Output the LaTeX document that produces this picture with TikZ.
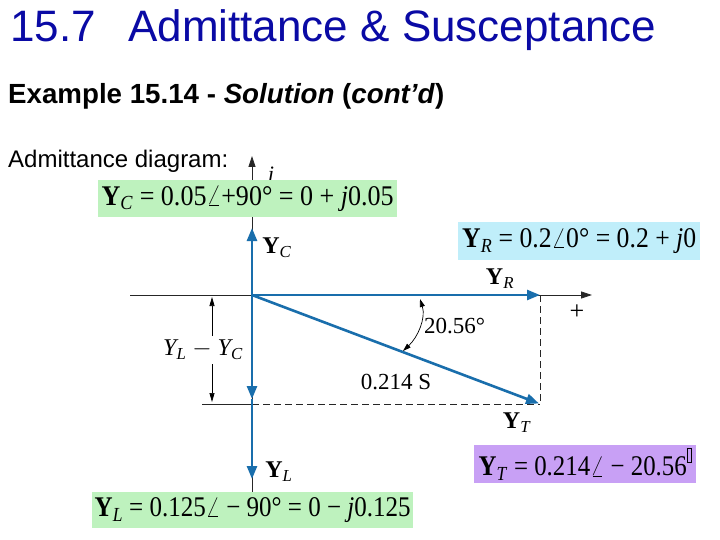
\documentclass[tikz,border=0pt]{standalone}
\usepackage{fontspec}
\usepackage{graphicx}
\setmainfont{Liberation Serif}
\newfontfamily\arialf{Liberation Sans}
\usetikzlibrary{arrows.meta}
\definecolor{titleblue}{RGB}{10,10,165}
\definecolor{vecblue}{RGB}{25,110,172}
\definecolor{boxgreen}{RGB}{190,242,190}
\definecolor{boxcyan}{RGB}{192,238,250}
\definecolor{boxpurple}{RGB}{200,160,245}
\newcommand{\fsz}[1]{\fontsize{#1}{#1}\selectfont}
\newcommand{\vY}[1]{\textbf{Y}\textsubscript{\textit{#1}}}
\newcommand{\fitw}[2]{\resizebox{#1}{\height}{#2}}
\newcommand{\missingglyph}{\raisebox{1.1ex}{\fboxsep=0pt\fboxrule=0.5pt\fbox{\rule{0pt}{1.0ex}\hspace{0.35ex}}}}
\begin{document}
\begin{tikzpicture}[x=1pt,y=-1pt,
  eqbox/.style={inner sep=0pt, anchor=north west, align=center, font=\fsz{28.5}},
  vec/.style={draw=vecblue, line width=2.6pt, -{Triangle[length=13pt,width=10pt]}},
  axisline/.style={draw=black!85, line width=0.8pt},
  axisarrow/.style={axisline, -{Triangle[length=11pt,width=7pt]}},
  dimarrow/.style={draw=black, line width=0.7pt, -{Triangle[length=9pt,width=5pt]}},
  lbl/.style={inner sep=0pt, font=\fsz{23}},
  vlbl/.style={inner sep=0pt, font=\fsz{24}}]
\useasboundingbox (0,0) rectangle (720,540);
\fill[white] (0,0) rectangle (720,540);
% headings
\node[anchor=base west, inner sep=0pt, text=titleblue, font=\arialf\fsz{44}] (num) at (10,42) {15.7};
\node[anchor=base west, inner sep=0pt, text=titleblue, font=\arialf\fsz{44}] (title) at (128,42) {Admittance \& Susceptance};
\node[anchor=base west, inner sep=0pt, font=\arialf\bfseries\fsz{27.7}] (example) at (8,104) {Example 15.14 - \textit{Solution} (\textit{cont’d})};
\node[anchor=base west, inner sep=0pt, font=\arialf\fsz{24}] (caption) at (8,168) {Admittance diagram:};
% coordinates
\coordinate (O) at (252,295);
\coordinate (Htail) at (130,295);
\coordinate (Htip) at (592,295);
\coordinate (Vbot) at (252,492);
\coordinate (Vtop) at (252,156);
\coordinate (R) at (540,295);
\coordinate (C) at (252,228);
\coordinate (N) at (252,399);
\coordinate (L) at (252,479);
\coordinate (T) at (539,403.5);
\coordinate (Rd) at (540,404);
\coordinate (Nd) at (252,404);
\coordinate (Dl) at (202,404);
% j label (partly hidden by the box)
\node[inner sep=0pt, font=\itshape\fsz{22}] (jlbl) at (271,177) {j};
% axes
\draw[axisarrow] (Htail) -- (Htip);
\draw[axisarrow] (Vbot) -- (Vtop);
\node[inner sep=0pt, font=\fsz{26}] (plus) at (577,312) {+};
% dashed projections
\draw[axisline, dashed, dash pattern=on 7pt off 4pt] (R) -- (Rd);
\draw[axisline, dashed, dash pattern=on 7pt off 4pt] (Nd) -- (Rd);
\draw[axisline] (Dl) -- (Nd);
% dimension Y_L - Y_C
\coordinate (d1) at (212,336);
\coordinate (d1t) at (212,297);
\coordinate (d2) at (212,364);
\coordinate (d2t) at (212,402);
\draw[dimarrow] (d1) -- (d1t);
\draw[dimarrow] (d2) -- (d2t);
\node[inner sep=0pt, font=\itshape\fsz{24}] (dimlbl) at (203,350) {Y\textsubscript{L} $-$ Y\textsubscript{C}};
% vectors
\draw[vec] (O) -- (R);
\draw[vec] (O) -- (C);
\draw[vec] (O) -- (N);
\draw[vec] (N) -- (L);
\draw[vec] (O) -- (T);
% angle
\coordinate (a1) at (420,299);
\coordinate (a2) at (403,351);
\draw[draw=black, line width=0.7pt, {Triangle[length=8pt,width=5pt]}-{Triangle[length=8pt,width=5pt]}] (a1) .. controls (426,318) and (418,337) .. (a2);
\node[lbl, anchor=west] (anglbl) at (424,326) {20.56°};
\node[lbl] (maglbl) at (396,382) {0.214 S};
% vector labels
\node[vlbl] (YClbl) at (277,248) {\vY{C}};
\node[vlbl] (YRlbl) at (500,279) {\vY{R}};
\node[vlbl] (YTlbl) at (517,423) {\vY{T}};
\node[vlbl] (YLlbl) at (279,472) {\vY{L}};
% equation boxes
\node[eqbox, fill=boxgreen, minimum width=299pt, minimum height=37pt] (YCbox) at (98,180) {\fitw{292pt}{\vY{C} = 0.05$\angle$+90° = 0 + \textit{j}0.05}};
\node[eqbox, fill=boxcyan, minimum width=242pt, minimum height=38pt] (YRbox) at (458,222) {\fitw{234pt}{\vY{R} = 0.2$\angle$0° = 0.2 + \textit{j}0}};
\node[eqbox, fill=boxpurple, minimum width=222pt, minimum height=38pt] (YTbox) at (474,445) {\fitw{213pt}{\vY{T} = 0.214$\angle$ − 20.56\missingglyph}};
\node[eqbox, fill=boxgreen, minimum width=321pt, minimum height=36pt] (YLbox) at (92,492) {\fitw{316pt}{\vY{L} = 0.125$\angle$ − 90° = 0 − \textit{j}0.125}};
\end{tikzpicture}
\end{document}
